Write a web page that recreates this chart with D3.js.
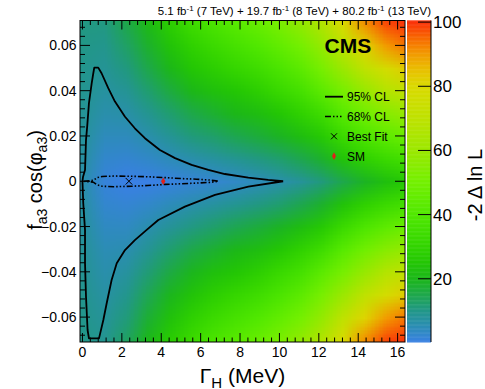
<!DOCTYPE html>
<html><head><meta charset="utf-8">
<script src="https://cdn.jsdelivr.net/npm/d3@7"></script>
<style>
html,body{margin:0;padding:0;background:#fff;}
svg{display:block;font-family:"Liberation Sans",Arial,Helvetica,sans-serif;}
</style></head><body>
<svg id="chart" width="485" height="389"></svg>
<script>
// Scan grid of -2 Delta ln L over (Gamma_H, f_a3 cos(phi_a3))
const widthNodes = [0, 1.1, 2.2, 3.3, 4.4, 5.5, 6.6, 7.7, 8.8, 9.9, 11, 12.1, 13.2, 14.3, 15.4, 16.5];
const fa3Nodes = [0.07, 0.06, 0.05, 0.04, 0.03, 0.02, 0.01, 0, -0.01, -0.02, -0.03, -0.04, -0.05, -0.06, -0.07];
const nllGrid = [
  [10.5, 10.5, 15.0, 21.0, 28.0, 34.0, 38.0, 42.0, 46.0, 51.0, 57.0, 66.0, 79.0, 91.0, 98.0, 100],
  [10.0, 9.5, 12.9, 18.0, 24.0, 29.0, 33.0, 36.5, 40.0, 44.6, 50.0, 58.0, 70.0, 81.0, 90.0, 94.0],
  [9.5, 8.5, 10.7, 15.0, 20.0, 25.0, 28.0, 31.0, 34.0, 38.0, 43.0, 51.0, 60.0, 70.0, 78.0, 83.0],
  [9.0, 7.3, 8.6, 12.0, 16.0, 20.0, 23.0, 25.0, 28.0, 32.0, 36.0, 43.0, 51.0, 59.0, 67.0, 71.0],
  [8.5, 6.0, 6.4, 9.0, 12.0, 15.0, 17.5, 20.0, 22.0, 25.0, 29.0, 34.0, 42.0, 49.0, 55.0, 59.0],
  [7.8, 4.3, 4.3, 6.0, 8.5, 11.0, 12.4, 14.4, 16.4, 18.8, 22.0, 26.0, 33.0, 39.0, 44.0, 48.0],
  [7.0, 2.7, 2.1, 3.1, 4.6, 6.0, 7.3, 8.8, 10.4, 12.0, 14.5, 18.0, 24.0, 29.0, 33.0, 36.0],
  [6.0, 1.3, 0.0, 0.1, 0.7, 1.5, 2.2, 3.3, 4.5, 5.9, 8.0, 11.0, 15.0, 19.0, 23.0, 26.0],
  [6.9, 2.5, 1.9, 2.9, 4.5, 6.0, 7.3, 8.8, 10.4, 12.0, 14.5, 18.0, 24.0, 29.0, 33.0, 36.0],
  [7.6, 3.8, 3.7, 5.8, 8.2, 10.5, 12.4, 14.4, 16.4, 18.8, 22.0, 26.0, 33.0, 39.0, 44.0, 48.0],
  [8.2, 5.0, 5.6, 8.6, 12.0, 15.0, 17.5, 20.0, 22.0, 25.0, 29.0, 34.0, 42.0, 49.0, 55.0, 59.0],
  [8.7, 6.0, 7.4, 11.5, 15.7, 19.5, 23.0, 25.0, 28.0, 32.0, 36.0, 43.0, 51.0, 59.0, 67.0, 71.0],
  [9.2, 7.0, 9.3, 14.3, 19.5, 24.0, 28.0, 31.0, 34.0, 38.0, 43.0, 51.0, 60.0, 70.0, 78.0, 83.0],
  [9.6, 8.0, 11.1, 17.2, 23.3, 28.5, 33.0, 36.5, 40.0, 44.6, 50.0, 58.0, 70.0, 81.0, 90.0, 94.0],
  [10.0, 9.0, 13.0, 20.0, 27.0, 33.0, 38.0, 42.0, 46.0, 51.0, 57.0, 66.0, 79.0, 91.0, 98.0, 100]
];

// Confidence-level contours (Gamma_H in MeV, f_a3 cos(phi_a3))
const contour95 = [
  [10.19, 0], [9.43, 0.0006], [8.42, 0.0016], [7.23, 0.0032], [6.39, 0.0050], [5.54, 0.0072],
  [4.70, 0.0102], [3.93, 0.0138], [3.17, 0.0190], [2.66, 0.0234], [2.16, 0.0285], [1.65, 0.0352],
  [1.31, 0.0411], [0.97, 0.0477], [0.80, 0.0502], [0.60, 0.0502], [0.55, 0.0477], [0.47, 0.0433],
  [0.33, 0.0345], [0.24, 0.0241], [0.18, 0.0183], [0.13, 0.0050], [0.03, 0.0020], [0.0, 0],
  [0.04, -0.0097], [0.13, -0.0215], [0.13, -0.0362], [0.18, -0.0510], [0.26, -0.0657], [0.33, -0.0694],
  [0.84, -0.0694], [1.06, -0.0613], [1.23, -0.0539], [1.48, -0.0436], [1.74, -0.0362], [2.16, -0.0304],
  [2.66, -0.0260], [3.26, -0.0215], [3.85, -0.0171], [5.20, -0.0112], [6.73, -0.0060], [8.42, -0.0024],
  [10.19, 0]
];
const contour68 = [
  [0.05, 0], [0.55, 0.0004], [0.75, 0.0016], [1.0, 0.0021], [1.6, 0.0023], [2.5, 0.0022],
  [3.3, 0.0020], [4.2, 0.0016], [5.0, 0.0012], [5.8, 0.0009], [6.5, 0.0005], [6.9, 0],
  [6.5, -0.0005], [5.8, -0.0008], [5.0, -0.0011], [4.2, -0.0014], [3.3, -0.0019], [2.5, -0.0022],
  [1.6, -0.0024], [1.0, -0.0022], [0.75, -0.0016], [0.55, -0.0004], [0.05, 0]
];
const bestFit = [2.36, 0];
const smPoint = [4.1, 0];

const xTicks = [0, 2, 4, 6, 8, 10, 12, 14, 16];
const yTicks = [-0.06, -0.04, -0.02, 0, 0.02, 0.04, 0.06];
const zTicks = [20, 40, 60, 80, 100];
const paletteStops = [0, 5, 10, 15, 20, 25, 30, 40, 50, 60, 70, 80, 85, 90, 95, 100];
const paletteColors = ["#3a80e6", "#2c8db5", "#229788", "#1ea84b", "#1cb719", "#23c605", "#32d400",
  "#50e800", "#73f000", "#9be800", "#bee200", "#dada00", "#e8c000", "#f29b00", "#f86900", "#fa320a"];

const legendItems = [
  {label: "95% CL", kind: "solid"},
  {label: "68% CL", kind: "dashdot"},
  {label: "Best Fit", kind: "cross"},
  {label: "SM", kind: "diamond"}
];

const plot = {left: 80, right: 405, top: 20.5, bottom: 342};
const bar = {left: 407, right: 431};

const svg = d3.select("#chart");
const x = d3.scaleLinear().domain([-0.125, 16.375]).range([plot.left, plot.right]);
const y = d3.scaleLinear().domain([-0.071, 0.071]).range([plot.bottom, plot.top]);
const z = d3.scaleLinear().domain([0.3, 100.5]).range([plot.bottom, plot.top]);
const color = d3.scaleLinear().domain(paletteStops).range(paletteColors)
  .interpolate(d3.interpolateRgb).clamp(true);

// heat map: one pixel per scan node, scaled up smoothly into the frame
const nx = widthNodes.length, ny = fa3Nodes.length;
const cnv = document.createElement("canvas");
cnv.width = nx; cnv.height = ny;
const ctx = cnv.getContext("2d");
const img = ctx.createImageData(nx, ny);
nllGrid.forEach((row, j) => row.forEach((v, i) => {
  const c = d3.rgb(color(v));
  const k = 4 * (j * nx + i);
  img.data[k] = c.r; img.data[k + 1] = c.g; img.data[k + 2] = c.b; img.data[k + 3] = 255;
}));
ctx.putImageData(img, 0, 0);

const dx = x(widthNodes[1]) - x(widthNodes[0]);
const dy = y(fa3Nodes[1]) - y(fa3Nodes[0]);

svg.append("clipPath").attr("id", "frame")
  .append("rect").attr("x", plot.left).attr("y", plot.top)
  .attr("width", plot.right - plot.left).attr("height", plot.bottom - plot.top);

svg.append("g").attr("clip-path", "url(#frame)")
  .append("image")
  .attr("href", cnv.toDataURL())
  .attr("x", x(widthNodes[0]) - dx / 2)
  .attr("y", y(fa3Nodes[0]) - dy / 2)
  .attr("width", dx * nx)
  .attr("height", dy * ny)
  .attr("preserveAspectRatio", "none")
  .style("image-rendering", "auto");

// contours
const line = d3.line().x(d => x(d[0])).y(d => y(d[1]));
const cg = svg.append("g").attr("clip-path", "url(#frame)");
cg.append("path").attr("d", line(contour95)).attr("fill", "none")
  .attr("stroke", "#000").attr("stroke-width", 1.8).attr("stroke-linejoin", "round");
cg.append("path").attr("d", line(contour68)).attr("fill", "none")
  .attr("stroke", "#000").attr("stroke-width", 1.6)
  .attr("stroke-dasharray", "6,2,1.5,2,1.5,2,1.5,2");

// markers
function cross(g, cx, cy, r) {
  g.append("path").attr("d", `M${cx - r},${cy - r}L${cx + r},${cy + r}M${cx - r},${cy + r}L${cx + r},${cy - r}`)
    .attr("stroke", "#000").attr("stroke-width", 1).attr("fill", "none");
}
function diamond(g, cx, cy, w, h) {
  g.append("path").attr("d", `M${cx},${cy - h}L${cx + w},${cy}L${cx},${cy + h}L${cx - w},${cy}Z`)
    .attr("fill", "#e0201a");
}
cross(svg, x(bestFit[0]), y(bestFit[1]), 3.3);
diamond(svg, x(smPoint[0]), y(smPoint[1]), 2.2, 3.8);

// frame
svg.append("rect").attr("x", plot.left).attr("y", plot.top)
  .attr("width", plot.right - plot.left).attr("height", plot.bottom - plot.top)
  .attr("fill", "none").attr("stroke", "#000").attr("stroke-width", 1);

// ticks on all four sides
const tg = svg.append("g").attr("stroke", "#000").attr("stroke-width", 1);
const xMinor = d3.range(0, 16.4, 0.4);
xMinor.forEach((v, i) => {
  const major = i % 5 === 0;
  const L = major ? 9 : 4.5;
  const px = x(v);
  tg.append("line").attr("x1", px).attr("x2", px).attr("y1", plot.bottom).attr("y2", plot.bottom - L);
  tg.append("line").attr("x1", px).attr("x2", px).attr("y1", plot.top).attr("y2", plot.top + L);
});
const yMinor = d3.range(-0.068, 0.0705, 0.004);
yMinor.forEach(v => {
  const major = Math.abs(Math.round(v * 1000) % 20) === 0;
  const L = major ? 10 : 5;
  const py = y(v);
  tg.append("line").attr("y1", py).attr("y2", py).attr("x1", plot.left).attr("x2", plot.left + L);
  tg.append("line").attr("y1", py).attr("y2", py).attr("x1", plot.right).attr("x2", plot.right - L);
});

// tick labels
svg.append("g").selectAll("text").data(xTicks).join("text")
  .attr("x", d => x(d)).attr("y", 356.5).attr("text-anchor", "middle")
  .attr("font-size", 14).text(d => d);
svg.append("g").selectAll("text").data(yTicks).join("text")
  .attr("x", 76.5).attr("y", d => y(d) + 5).attr("text-anchor", "end")
  .attr("font-size", 14).text(d => d === 0 ? "0" : d3.format(".2f")(d).replace("-", "\u2212"));

// axis titles
const xt = svg.append("text").attr("x", 242.5).attr("y", 382.5).attr("text-anchor", "middle").attr("font-size", 21);
xt.append("tspan").text("\u0393");
xt.append("tspan").attr("dy", 5).attr("font-size", 15).text("H");
xt.append("tspan").attr("dy", -5).text(" (MeV)");

const yt = svg.append("text").attr("transform", "translate(41.5,180) rotate(-90)")
  .attr("text-anchor", "middle").attr("font-size", 20);
yt.append("tspan").text("f");
yt.append("tspan").attr("dy", 5).attr("font-size", 14).text("a3");
yt.append("tspan").attr("dy", -5).text(" cos(\u03c6");
yt.append("tspan").attr("dy", 5).attr("font-size", 14).text("a3");
yt.append("tspan").attr("dy", -5).text(")");

// luminosity label
const lumi = svg.append("text").attr("x", 431).attr("y", 14.5).attr("text-anchor", "end").attr("font-size", 11.5);
[["5.1 fb", "-1", " (7 TeV) + 19.7 fb"], [null, "-1", " (8 TeV) + 80.2 fb"], [null, "-1", " (13 TeV)"]]
  .forEach(([a, s, b]) => {
    if (a) lumi.append("tspan").text(a);
    lumi.append("tspan").attr("dy", -4).attr("font-size", 8).text(s);
    lumi.append("tspan").attr("dy", 4).text(b);
  });

svg.append("text").attr("x", 324.5).attr("y", 53).attr("font-size", 21).attr("font-weight", "bold").text("CMS");

// legend
const lg = svg.append("g");
legendItems.forEach((d, i) => {
  const cy = 96.7 + i * 19.8;
  if (d.kind === "solid") {
    lg.append("line").attr("x1", 325).attr("x2", 343).attr("y1", cy).attr("y2", cy)
      .attr("stroke", "#000").attr("stroke-width", 1.8);
  } else if (d.kind === "dashdot") {
    lg.append("line").attr("x1", 325).attr("x2", 343).attr("y1", cy).attr("y2", cy)
      .attr("stroke", "#000").attr("stroke-width", 1.6).attr("stroke-dasharray", "6,2,1.5,2,1.5,2,1.5,2");
  } else if (d.kind === "cross") {
    cross(lg, 334, cy, 3);
  } else {
    diamond(lg, 334, cy, 2, 3.8);
  }
  lg.append("text").attr("x", 347).attr("y", cy + 4.5).attr("font-size", 12).text(d.label);
});

// colour bar
const zs = d3.range(0.3, 100.5, 0.25);
svg.append("g").selectAll("rect").data(zs).join("rect")
  .attr("x", bar.left).attr("width", bar.right - bar.left)
  .attr("y", d => z(d + 0.25)).attr("height", d => z(d) - z(d + 0.25) + 0.5)
  .attr("fill", d => color(d));
svg.append("line").attr("x1", bar.right).attr("x2", bar.right)
  .attr("y1", plot.top).attr("y2", plot.bottom).attr("stroke", "#000");
svg.append("g").selectAll("line").data(zTicks).join("line")
  .attr("x1", bar.right - 13).attr("x2", bar.right)
  .attr("y1", d => z(d)).attr("y2", d => z(d)).attr("stroke", "#000");
svg.append("g").selectAll("text").data(zTicks).join("text")
  .attr("x", 433).attr("y", d => z(d) + 6).attr("font-size", 17).text(d => d);
svg.append("text").attr("transform", "translate(481.5,185) rotate(-90)")
  .attr("text-anchor", "middle").attr("font-size", 20).text("-2 \u0394 ln L");
</script>
</body></html>
